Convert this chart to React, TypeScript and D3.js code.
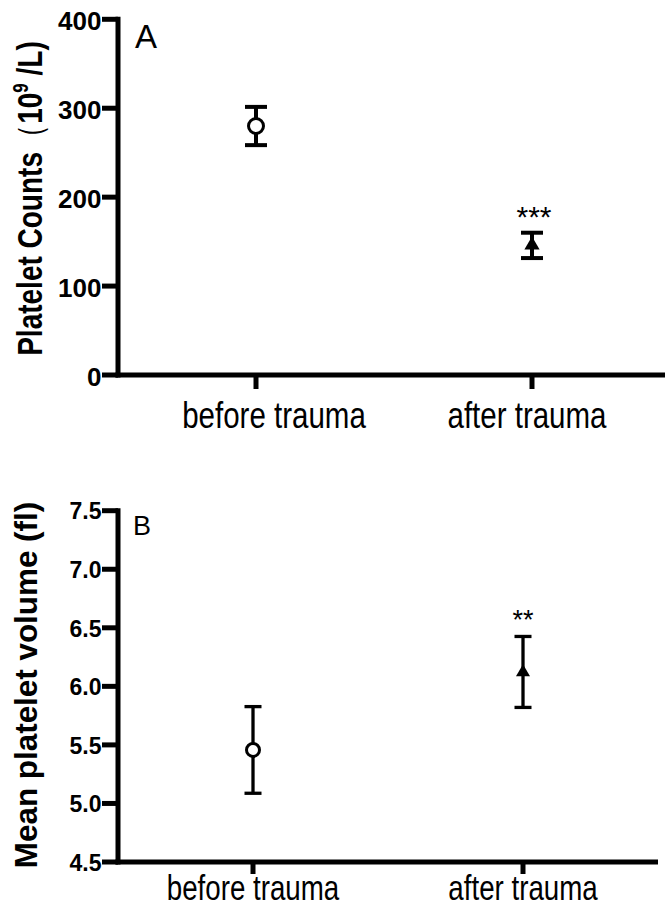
import { useEffect, useRef } from 'react'
import * as d3 from 'd3'

const groups = ['before trauma', 'after trauma']

// Panel A - platelet counts (10^9/L), mean with error bars
const countMean = [280, 146]
const countLow = [258.5, 131.5]
const countHigh = [301.5, 160]
const countTicks = [0, 100, 200, 300, 400]
const countStars = ['', '***']

// Panel B - mean platelet volume (fl)
const mpvMean = [5.457, 6.12]
const mpvLow = [5.087, 5.82]
const mpvHigh = [5.827, 6.426]
const mpvTicks = [4.5, 5.0, 5.5, 6.0, 6.5, 7.0, 7.5]
const mpvStars = ['', '**']

const FONT = '"Liberation Sans", Arial, Helvetica, sans-serif'

function drawPanel(g, cfg) {
  const y = d3.scaleLinear().domain(cfg.yDomain).range(cfg.yRange)
  const x = d3.scalePoint().domain(groups).range(cfg.xRange).padding(0.5)
  const x0 = cfg.xRange[0]
  const aw = cfg.axisWidth

  // y axis
  g.append('line')
    .attr('x1', x0).attr('x2', x0)
    .attr('y1', cfg.yRange[1] - aw / 2).attr('y2', cfg.yRange[0] + aw / 2)
    .attr('stroke', '#000').attr('stroke-width', aw)

  cfg.ticks.forEach(t => {
    g.append('line')
      .attr('x1', x0 - 16).attr('x2', x0)
      .attr('y1', y(t)).attr('y2', y(t))
      .attr('stroke', '#000').attr('stroke-width', aw)
    g.append('text')
      .attr('x', x0 - 16.5).attr('y', y(t))
      .attr('dy', cfg.tickDy)
      .attr('text-anchor', 'end')
      .attr('font-family', FONT)
      .attr('font-weight', 'bold')
      .attr('font-size', cfg.tickFont)
      .text(cfg.tickFormat(t))
  })

  // x axis
  g.append('line')
    .attr('x1', x0 - aw / 2).attr('x2', cfg.xRange[1])
    .attr('y1', cfg.yRange[0]).attr('y2', cfg.yRange[0])
    .attr('stroke', '#000').attr('stroke-width', aw)

  groups.forEach((grp, i) => {
    g.append('line')
      .attr('x1', x(grp)).attr('x2', x(grp))
      .attr('y1', cfg.yRange[0]).attr('y2', cfg.yRange[0] + cfg.xTickLen)
      .attr('stroke', '#000').attr('stroke-width', aw)
    g.append('text')
      .attr('transform', `translate(${x(grp) + cfg.labelDx[i]},${cfg.labelY}) scale(1,1.25)`)
      .attr('text-anchor', 'middle')
      .attr('font-family', FONT)
      .attr('font-size', cfg.labelFont)
      .text(grp)
  })

  // error bars + symbols
  groups.forEach((grp, i) => {
    const cx = x(grp)
    const hi = y(cfg.high[i])
    const lo = y(cfg.low[i])
    g.append('line')
      .attr('x1', cx).attr('x2', cx).attr('y1', hi).attr('y2', lo)
      .attr('stroke', '#000').attr('stroke-width', cfg.barWidth)
    ;[hi, lo].forEach(v => {
      g.append('line')
        .attr('x1', cx - cfg.capW / 2).attr('x2', cx + cfg.capW / 2)
        .attr('y1', v).attr('y2', v)
        .attr('stroke', '#000').attr('stroke-width', cfg.barWidth)
    })
    if (i === 0) {
      g.append('circle')
        .attr('cx', cx).attr('cy', y(cfg.mean[i]))
        .attr('r', cfg.circleR)
        .attr('fill', '#fff')
        .attr('stroke', '#000').attr('stroke-width', 3)
    } else {
      g.append('path')
        .attr('d', d3.symbol(d3.symbolTriangle, cfg.triSize)())
        .attr('transform', `translate(${cx},${y(cfg.mean[i])})`)
        .attr('fill', '#000')
    }
    if (cfg.stars[i]) {
      g.append('text')
        .attr('x', cx + cfg.starDx).attr('y', hi - cfg.starGap)
        .attr('text-anchor', 'middle')
        .attr('font-family', FONT)
        .attr('font-size', cfg.starFont)
        .text(cfg.stars[i])
    }
  })

  // panel letter
  g.append('text')
    .attr('x', cfg.letterX).attr('y', cfg.letterY)
    .attr('font-family', FONT)
    .attr('font-size', cfg.letterFont)
    .text(cfg.letter)

  // y title
  const title = g.append('text')
    .attr('transform', `translate(${cfg.titleX},${cfg.titleY}) rotate(-90) scale(1,${cfg.titleScale})`)
    .attr('text-anchor', 'middle')
    .attr('font-family', FONT)
    .attr('font-weight', 'bold')
    .attr('font-size', cfg.titleFont)
  cfg.title.forEach(part => {
    const ts = title.append('tspan').text(part.text)
    if (part.dy) ts.attr('dy', part.dy)
    if (part.size) ts.attr('font-size', part.size)
    if (part.weight) ts.attr('font-weight', part.weight)
  })
}

export default function App() {
  const svgRef = useRef(null)

  useEffect(() => {
    if (!svgRef.current) return
    const svg = d3.select(svgRef.current)
    svg.selectAll('*').remove()

    drawPanel(svg.append('g'), {
      yDomain: [0, 400], yRange: [375, 19.3], xRange: [118, 670],
      axisWidth: 5, ticks: countTicks, tickFont: 26, tickDy: '0.42em',
      tickFormat: d3.format('d'),
      xTickLen: 14, labelY: 428, labelFont: 29.5, labelDx: [18, -5],
      mean: countMean, low: countLow, high: countHigh, stars: countStars,
      capW: 22, barWidth: 4, circleR: 7.5, triSize: 100,
      starFont: 30, starGap: 6, starDx: 2,
      letter: 'A', letterX: 135, letterY: 48, letterFont: 33,
      titleX: 42, titleY: 198.5, titleFont: 28, titleScale: 1.25,
      title: [
        { text: 'Platelet Counts' },
        { text: '（', weight: 'normal' },
        { text: '10' },
        { text: '9', dy: -11, size: 17 },
        { text: ' /L)', dy: 11 },
      ],
    })

    drawPanel(svg.append('g'), {
      yDomain: [4.5, 7.5], yRange: [862, 510.7], xRange: [118, 658],
      axisWidth: 5, ticks: mpvTicks, tickFont: 23, tickDy: '0.38em',
      tickFormat: d3.format('.1f'),
      xTickLen: 12, labelY: 900, labelFont: 27.7, labelDx: [0, 0],
      mean: mpvMean, low: mpvLow, high: mpvHigh, stars: mpvStars,
      capW: 17, barWidth: 3.3, circleR: 6.5, triSize: 85,
      starFont: 27, starGap: 7.7, starDx: 0,
      letter: 'B', letterX: 133, letterY: 535, letterFont: 27,
      titleX: 37, titleY: 685, titleFont: 31.4, titleScale: 1,
      title: [{ text: 'Mean platelet volume (fl)' }],
    })
  }, [])

  return (
    <div style={{ position: 'absolute', left: 0, top: 0 }}>
      <svg ref={svgRef} width={665} height={905} style={{ display: 'block', background: '#fff' }} />
    </div>
  )
}
